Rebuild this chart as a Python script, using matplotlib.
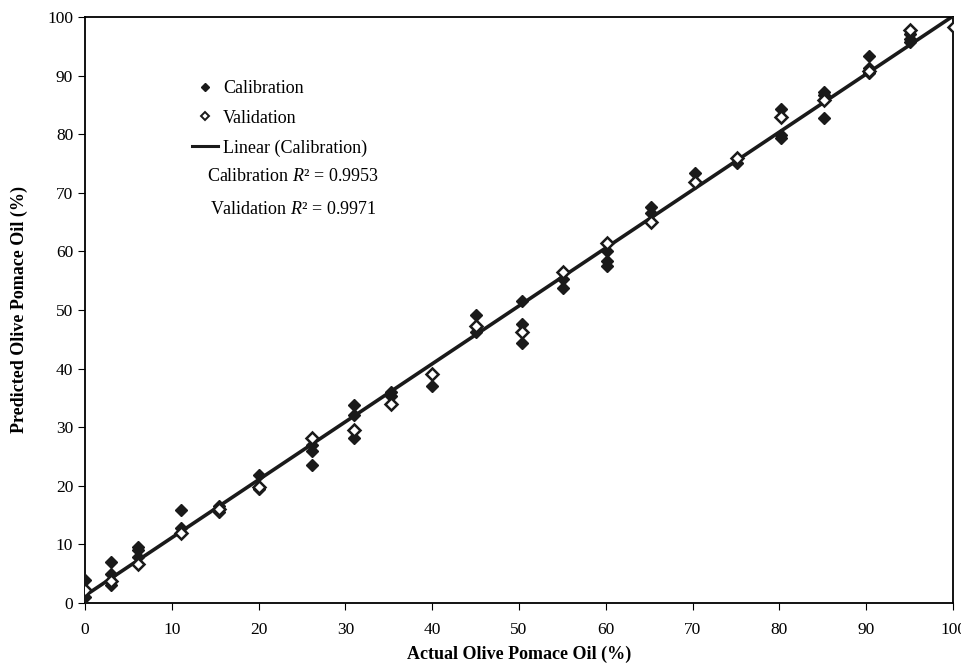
import numpy as np
import matplotlib
matplotlib.use('Agg')
import matplotlib.pyplot as plt
from matplotlib.lines import Line2D

plt.rcParams['font.family'] = ['Liberation Serif', 'DejaVu Serif']
plt.rcParams['mathtext.fontset'] = 'custom'
plt.rcParams['mathtext.it'] = 'Liberation Serif:italic'
plt.rcParams['mathtext.rm'] = 'Liberation Serif'

# ---- Calibration set (filled diamonds) ----
cal_x = [0, 0, 3, 3, 3, 6.1, 6.1, 6.1, 11, 11, 15.4, 15.4, 20, 20,
         26.2, 26.2, 26.2, 31, 31, 31, 35.3, 35.3, 40, 45, 45,
         50.3, 50.3, 50.3, 55.1, 55.1, 60.1, 60.1, 60.1, 65.2, 65.2,
         70.3, 75.1, 80.2, 80.2, 80.2, 85.1, 85.1, 85.1,
         90.3, 90.3, 90.3, 95.1, 95.1, 95.1, 100.1]
cal_y = [4.0, 1.0, 7.0, 5.0, 3.0, 9.6, 9.0, 7.8, 15.9, 12.8, 16.6, 15.6, 21.9, 19.5,
         26.9, 26.0, 23.5, 33.7, 32.0, 28.1, 36.0, 35.3, 37.0, 49.1, 46.3,
         51.6, 47.6, 44.3, 55.3, 53.8, 60.0, 58.3, 57.5, 67.6, 66.5,
         73.3, 75.0, 84.3, 79.8, 79.4, 87.2, 86.6, 82.8,
         93.4, 91.2, 90.4, 97.0, 96.3, 95.8, 100.6]

# ---- Validation set (open diamonds) ----
val_x = [0, 3, 6.1, 11, 15.4, 20, 26.2, 31, 35.3, 40, 45, 50.3, 55.1, 60.1,
         65.2, 70.3, 75.1, 80.2, 85.1, 90.3, 95.1, 100.1]
val_y = [2.2, 3.8, 6.6, 12.0, 16.0, 19.8, 28.2, 29.5, 34.0, 39.0, 47.2, 46.3, 56.4, 61.4,
         65.0, 71.9, 75.9, 82.9, 85.9, 90.7, 97.8, 98.2]

x_ticks = np.arange(0, 101, 10)
y_ticks = np.arange(0, 101, 10)

# ---- Linear fit of calibration data ----
p = np.polyfit(cal_x, cal_y, 1)
x_fit = np.array([0, 100.1])
y_fit = np.polyval(p, x_fit)

fig = plt.figure(figsize=(9.61, 6.66), dpi=100)
ax = fig.add_axes([0.0885, 0.0946, 0.9032, 0.88])

ax.plot(x_fit, y_fit, color='#1a1a1a', lw=2.6, zorder=2)
ax.plot(cal_x, cal_y, ls='none', marker='D', ms=6.5, color='#1a1a1a', zorder=3)
ax.plot(val_x, val_y, ls='none', marker='D', ms=6, mfc='white', mec='#1a1a1a', mew=1.8, zorder=4)

ax.set_xlim(0, 100)
ax.set_ylim(0, 100)
ax.set_xticks(x_ticks)
ax.set_yticks(y_ticks)
ax.tick_params(direction='out', length=5, labelsize=12.5, top=False, right=False)
ax.tick_params(axis='x', pad=9)
for s in ax.spines.values():
    s.set_linewidth(1.3)

ax.set_xlabel('Actual Olive Pomace Oil (%)', fontsize=13, fontweight='bold', labelpad=5)
ax.set_ylabel('Predicted Olive Pomace Oil (%)', fontsize=13, fontweight='bold', labelpad=14)

handles = [
    Line2D([], [], ls='none', marker='D', ms=4.5, color='#1a1a1a'),
    Line2D([], [], ls='none', marker='D', ms=4.5, mfc='white', mec='#1a1a1a', mew=1.4),
    Line2D([], [], color='#1a1a1a', lw=2.2),
]
ax.legend(handles, ['Calibration', 'Validation', 'Linear (Calibration)'],
          loc='upper left', bbox_to_anchor=(0.105, 0.92), frameon=False,
          fontsize=13, handlelength=1.4, handletextpad=0.3, labelspacing=0.7)

ax.text(0.24, 0.727, 'Calibration $R$\u00b2 = 0.9953', transform=ax.transAxes,
        ha='center', va='center', fontsize=13)
ax.text(0.24, 0.671, 'Validation $R$\u00b2 = 0.9971', transform=ax.transAxes,
        ha='center', va='center', fontsize=13)

fig.savefig('out.png', dpi=100)
